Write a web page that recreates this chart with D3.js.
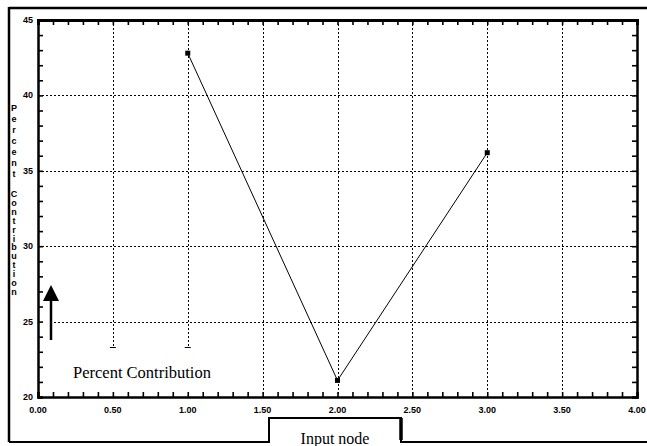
<!DOCTYPE html>
<html>
<head>
<meta charset="utf-8">
<script src="https://cdn.jsdelivr.net/npm/d3@7"></script>
<style>
  html, body { margin: 0; padding: 0; background: #fff; }
  svg { display: block; }
</style>
</head>
<body>
<svg id="chart" width="647" height="446"></svg>
<script>
// Input node positions and their percent contribution
const inputNodes = [1.0, 2.0, 3.0];
const percentContribution = [42.8, 21.1, 36.2];

// Axis tick labels
const xTickValues = [0, 0.5, 1.0, 1.5, 2.0, 2.5, 3.0, 3.5, 4.0];
const yTickValues = [20, 25, 30, 35, 40, 45];

const yTitle = "Percent Contribution";
const xTitle = "Input node";

const svg = d3.select("#chart");
const W = 647, H = 446;
const plot = { left: 38, right: 637, top: 20, bottom: 397 };

const x = d3.scaleLinear().domain([0, 4]).range([plot.left, plot.right]);
const y = d3.scaleLinear().domain([20, 45]).range([plot.bottom, plot.top]);

// outer frame of the figure
svg.append("rect").attr("width", W).attr("height", H).attr("fill", "#fff");
const frame = svg.append("g").attr("fill", "none").attr("stroke", "#000");
frame.append("line").attr("x1", 9).attr("x2", W).attr("y1", 8).attr("y2", 8).attr("stroke-width", 2.5);
frame.append("line").attr("x1", 9).attr("x2", 9).attr("y1", 7).attr("y2", 442).attr("stroke-width", 2.5);
frame.append("path")
  .attr("d", `M9,442 H269 V418 H401 V442 H${W}`)
  .attr("stroke-width", 2);
frame.append("line").attr("x1", 401).attr("x2", 401).attr("y1", 418).attr("y2", 440).attr("stroke-width", 3.5);

// dotted grid
const grid = svg.append("g")
  .attr("stroke", "#000").attr("stroke-width", 1).attr("stroke-dasharray", "2,2");
grid.selectAll("line.v").data(xTickValues.filter(d => d > 0 && d < 4)).join("line")
  .attr("class", "v")
  .attr("x1", d => Math.round(x(d)) + 0.5).attr("x2", d => Math.round(x(d)) + 0.5)
  .attr("y1", plot.top).attr("y2", d => d <= 1.0 ? 347 : plot.bottom);
grid.selectAll("line.h").data(yTickValues.filter(d => d > 20 && d < 45)).join("line")
  .attr("class", "h")
  .attr("x1", d => d === 25 ? 50 : plot.left).attr("x2", plot.right)
  .attr("y1", d => Math.round(y(d)) + 0.5).attr("y2", d => Math.round(y(d)) + 0.5);
// short end marks where the two left grid lines stop
svg.selectAll("line.endmark").data([0.5, 1.0]).join("line")
  .attr("x1", d => x(d) - 3).attr("x2", d => x(d) + 3)
  .attr("y1", 347.5).attr("y2", 347.5).attr("stroke", "#000").attr("stroke-width", 1);

// axes with inward ticks; major labels on left and bottom only
const xMinor = d3.range(0, 41).map(i => i / 10);
const yMinor = d3.range(20, 46);

const axB = d3.axisBottom(x).tickValues(xMinor).tickSize(-5).tickFormat("");
const axT = d3.axisTop(x).tickValues(xMinor).tickSize(-5).tickFormat("");
const axL = d3.axisLeft(y).tickValues(yMinor).tickSize(-5).tickFormat("");
const axR = d3.axisRight(y).tickValues(yMinor).tickSize(-5).tickFormat("");

function styleAxis(g, w) {
  g.select(".domain").attr("stroke", "#000").attr("stroke-width", w);
  g.selectAll(".tick line").attr("stroke", "#000").attr("stroke-width", 1.6);
}
svg.append("g").attr("transform", `translate(0,${plot.bottom})`).call(axB).call(g => styleAxis(g, 2.5));
svg.append("g").attr("transform", `translate(0,${plot.top})`).call(axT).call(g => styleAxis(g, 3));
svg.append("g").attr("transform", `translate(${plot.left},0)`).call(axL).call(g => styleAxis(g, 2.5));
svg.append("g").attr("transform", `translate(${plot.right},0)`).call(axR).call(g => styleAxis(g, 2.5));

// tick labels
const labelFont = "'Liberation Sans', Arial, sans-serif";
svg.append("g").selectAll("text").data(xTickValues).join("text")
  .attr("x", d => x(d)).attr("y", 413)
  .attr("text-anchor", "middle")
  .attr("font-family", labelFont).attr("font-size", 9).attr("font-weight", "bold")
  .text(d => d3.format(".2f")(d));
svg.append("g").selectAll("text").data(yTickValues).join("text")
  .attr("x", 33).attr("y", d => y(d) + 3)
  .attr("text-anchor", "end")
  .attr("font-family", labelFont).attr("font-size", 9).attr("font-weight", "bold")
  .text(d => d);

// vertical y title, one letter per line, a small gap between the two words
const words = yTitle.split(" ");
const letterPos = [];
words[0].split("").forEach((c, i) => letterPos.push({ c, y: 111 + i * 11 }));
words[1].split("").forEach((c, i) => letterPos.push({ c, y: 197 + i * 8.9 }));
svg.append("g").selectAll("text").data(letterPos).join("text")
  .attr("x", 14).attr("y", d => d.y)
  .attr("text-anchor", "middle")
  .attr("font-family", labelFont).attr("font-size", 9).attr("font-weight", "bold")
  .text(d => d.c);

// data line and markers
const pts = inputNodes.map((v, i) => [v, percentContribution[i]]);
svg.append("path").datum(pts)
  .attr("fill", "none").attr("stroke", "#000").attr("stroke-width", 1)
  .attr("d", d3.line().x(d => x(d[0])).y(d => y(d[1])));
svg.append("g").selectAll("rect").data(pts).join("rect")
  .attr("x", d => x(d[0]) - 2.5).attr("y", d => y(d[1]) - 2.5)
  .attr("width", 5).attr("height", 5).attr("fill", "#000");

// annotation: arrow and "Percent Contribution" caption inside the plot
const arrowX = 51;
svg.append("line").attr("x1", arrowX).attr("x2", arrowX).attr("y1", 340).attr("y2", 298)
  .attr("stroke", "#000").attr("stroke-width", 2.5);
svg.append("path")
  .attr("d", `M${arrowX - 8},301 L${arrowX},285 L${arrowX + 8},301 Z`)
  .attr("fill", "#000");
svg.append("text").attr("x", 73).attr("y", 378)
  .attr("font-family", "'Liberation Serif', 'Times New Roman', serif").attr("font-size", 16.5)
  .text(yTitle);

// x title in its tab below the axis
svg.append("text").attr("x", 335).attr("y", 444)
  .attr("text-anchor", "middle")
  .attr("font-family", "'Liberation Serif', 'Times New Roman', serif").attr("font-size", 16)
  .text(xTitle);
</script>
</body>
</html>
